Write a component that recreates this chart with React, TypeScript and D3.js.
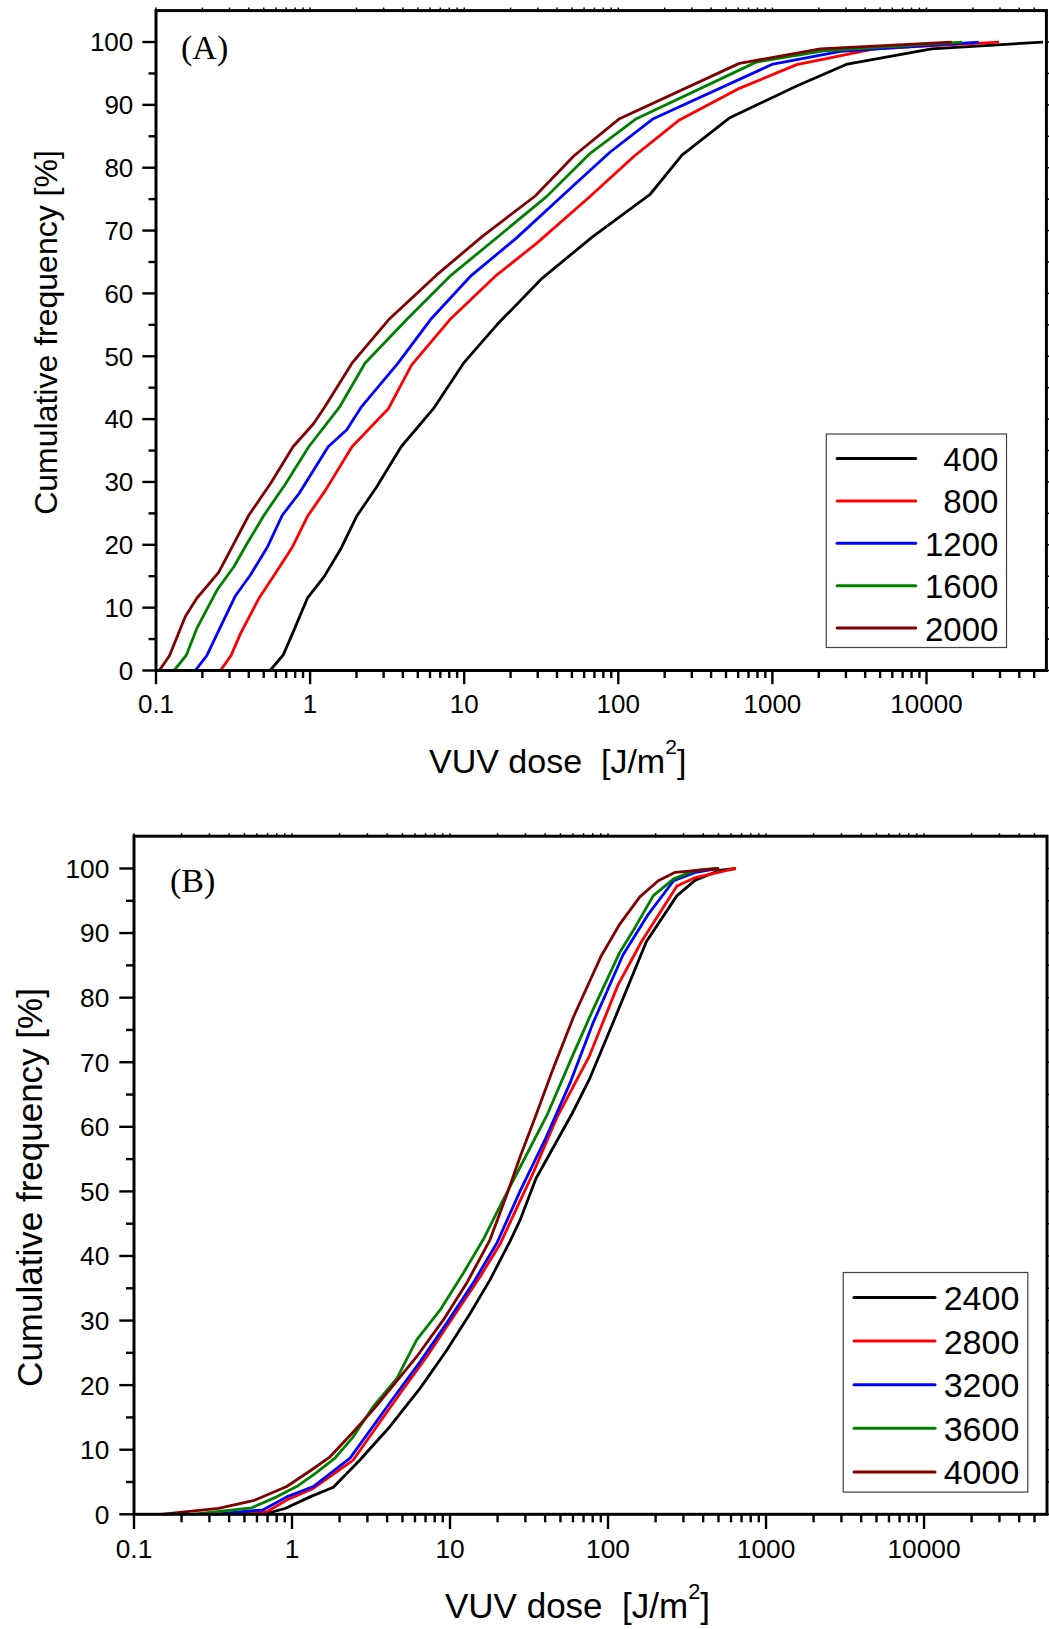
import React from "react";
import * as d3 from "d3";

// ---------- DATA ----------
const seriesNamesA = ["400", "800", "1200", "1600", "2000"];
const seriesNamesB = ["2400", "2800", "3200", "3600", "4000"];
const seriesColors = ["#000000", "#ff0000", "#0000ff", "#008000", "#800000"];

// Panel A: [VUV dose J/m2, cumulative frequency %]
const a400: [number, number][] = [
  [0.55, 0], [0.67, 2.5], [0.77, 5.9], [0.96, 11.5], [1.23, 14.9], [1.57, 19.2], [2.0, 24.5],
  [2.7, 29.2], [3.9, 35.6], [6.33, 41.7], [9.9, 48.9], [16.3, 55], [32, 62.4], [68, 69],
  [160, 75.7], [259, 82], [525, 87.9], [1438, 93], [3063, 96.5], [10800, 98.9], [57000, 100],
];
const a800: [number, number][] = [
  [0.262, 0], [0.307, 2.4], [0.354, 5.9], [0.466, 11.5], [0.615, 16], [0.77, 19.7], [0.96, 24.5],
  [1.26, 28.7], [1.87, 35.6], [3.23, 41.7], [4.55, 48.6], [8.05, 55.8], [15.85, 62.7], [29.6, 68],
  [64.7, 75.3], [127.7, 81.9], [246, 87.5], [594, 92.5], [1438, 96.4], [4584, 98.9], [29600, 100],
];
const a1200: [number, number][] = [
  [0.18, 0], [0.214, 2.4], [0.275, 8], [0.328, 11.9], [0.41, 15.2], [0.53, 19.7], [0.66, 24.7],
  [0.85, 28.2], [1.31, 35.6], [1.73, 38.3], [2.16, 42], [3.72, 48.9], [6.03, 55.8], [10.95, 62.7],
  [21.8, 68.8], [48.8, 76.7], [88.6, 82.5], [168.7, 87.8], [1009, 96.5], [2767, 98.5], [21840, 100],
];
const a1600: [number, number][] = [
  [0.131, 0], [0.157, 2.4], [0.184, 6.7], [0.249, 12.8], [0.32, 16.5], [0.39, 20.2], [0.502, 24.7],
  [0.697, 29.8], [0.98, 35.6], [1.56, 42], [2.27, 48.9], [4.22, 55.8], [8.05, 62.7], [17.1, 69.3],
  [34.2, 75.4], [65.7, 82.3], [131, 87.8], [785, 96.8], [2149, 98.6], [17000, 100],
];
const a2000: [number, number][] = [
  [0.105, 0], [0.122, 2.3], [0.155, 8.6], [0.184, 11.5], [0.255, 15.6], [0.32, 20.2], [0.4, 24.7],
  [0.555, 29.8], [0.775, 35.6], [1.055, 39.3], [1.25, 42], [1.87, 48.9], [3.23, 55.8], [6.6, 62.9],
  [13, 69], [28.9, 75.5], [51.6, 81.9], [101.8, 87.8], [610, 96.6], [2046, 98.9], [14590, 100],
];

// Panel B
const b2400: [number, number][] = [
  [0.658, 0], [0.903, 0.9], [1.3, 2.7], [1.826, 4.2], [2.69, 8.4], [4.17, 13.6], [6.46, 19.5],
  [9.53, 25.4], [13.4, 31.1], [17.9, 36.3], [24.0, 42.3], [27.7, 45.5], [35, 52], [59.4, 62.1],
  [76, 67.3], [110, 76.7], [175, 88.7], [273, 95.8], [357, 98.2], [505, 99.7], [645, 100],
];
const b2800: [number, number][] = [
  [0.425, 0], [0.692, 0.4], [0.926, 2.2], [1.364, 4], [2.44, 8.4], [3.44, 13.6], [4.83, 18.7],
  [7.12, 24.4], [10.5, 30.6], [15.5, 36.8], [20.7, 41.8], [27.7, 48.5], [33.8, 53], [47.6, 61.5],
  [76, 70.9], [115.3, 81.9], [163, 88.7], [273, 97.3], [357, 98.6], [645, 100],
];
const b3200: [number, number][] = [
  [0.318, 0], [0.658, 0.7], [0.926, 2.7], [1.364, 4.3], [2.33, 8.7], [3.12, 13], [4.38, 18],
  [6.46, 23.6], [9.53, 29.6], [14.0, 35.8], [19.8, 42], [27.7, 50], [40.1, 58.1], [58, 67],
  [79.8, 75.9], [124.3, 86.6], [179.7, 92.9], [260, 98.1], [357, 99.4], [505, 100],
];
const b3600: [number, number][] = [
  [0.232, 0], [0.556, 1], [0.8, 2.7], [1.07, 4.3], [1.4, 6.3], [1.87, 8.7], [2.44, 12], [3.27, 16.7],
  [4.6, 21], [6.15, 27], [8.64, 31.6], [12.1, 37.3], [16.2, 42.5], [21.5, 48.5], [27.7, 53.7],
  [41.1, 61.8], [59.4, 70.9], [79.8, 78], [118, 86.9], [147.6, 90.8], [193.6, 95.8], [260, 98.4],
  [357, 99.7], [481, 100],
];
const b4000: [number, number][] = [
  [0.148, 0], [0.342, 0.93], [0.569, 2.1], [0.926, 4.3], [1.333, 6.9], [1.74, 8.9], [2.39, 12.5],
  [3.27, 16.2], [4.49, 20.3], [6.15, 24.4], [9.07, 30.1], [12.76, 35.8], [17.9, 42.5], [22.5, 49],
  [27.7, 55.3], [34.6, 61.5], [44.3, 68.6], [60.9, 77.2], [90.3, 86.4], [118, 91.3], [159, 95.6],
  [208, 98.1], [266, 99.4], [505, 100],
];

const xMajorTicks = [0.1, 1, 10, 100, 1000, 10000];
const xTickLabels = ["0.1", "1", "10", "100", "1000", "10000"];
const yMajorTicks = [0, 10, 20, 30, 40, 50, 60, 70, 80, 90, 100];
const yMinorTicks = [5, 15, 25, 35, 45, 55, 65, 75, 85, 95];
const xDomain: [number, number] = [0.1, 60000];
const yDomain: [number, number] = [0, 105];

const SANS = "'Liberation Sans', Arial, Helvetica, sans-serif";
const SERIF = "'Liberation Serif', 'Times New Roman', serif";

const xMinorTicks: number[] = [];
for (let k = -1; k <= 4; k++) {
  for (let m = 2; m <= 9; m++) {
    const v = m * Math.pow(10, k);
    if (v < 60000) xMinorTicks.push(+v.toPrecision(3));
  }
}

type PanelProps = {
  left: number; right: number; top: number; bottom: number;
  series: [number, number][][]; names: string[];
  majorLen: number; minorLen: number;
  yLabelX: number; xLabelY: number; tickFont: number;
  panelLabel: string; panelLabelX: number; panelLabelY: number;
  xTitleX: number; xTitleY: number; xTitleFont: number;
  yTitleX: number; yTitleY: number; yTitleFont: number;
  legX: number; legY: number; legW: number; legH: number;
  legLineX1: number; legLineX2: number; legRow0: number; legRowStep: number;
  legTextX: number; legFont: number;
};

function Panel(p: PanelProps) {
  const x = d3.scaleLog().domain(xDomain).range([p.left, p.right]);
  const y = d3.scaleLinear().domain(yDomain).range([p.bottom, p.top]);
  const line = d3.line<[number, number]>().x((d) => x(d[0])).y((d) => y(d[1]));
  const tickW = 2.4;
  return (
    <g>
      {p.series.map((s, i) => (
        <path key={i} d={line(s) || ""} fill="none" stroke={seriesColors[i]} strokeWidth={2.8}
          strokeLinejoin="round" strokeLinecap="butt" />
      ))}
      <rect x={p.left} y={p.top} width={p.right - p.left} height={p.bottom - p.top}
        fill="none" stroke="#000" strokeWidth={3} />
      {xMajorTicks.map((t) => (
        <line key={"xm" + t} x1={x(t)} x2={x(t)} y1={p.bottom} y2={p.bottom + p.majorLen} stroke="#000" strokeWidth={tickW} />
      ))}
      {xMinorTicks.map((t) => (
        <line key={"xn" + t} x1={x(t)} x2={x(t)} y1={p.bottom} y2={p.bottom + p.minorLen} stroke="#000" strokeWidth={tickW} />
      ))}
      {xMajorTicks.concat(xMinorTicks).map((t) => (
        <line key={"xt" + t} x1={x(t)} x2={x(t)} y1={p.top} y2={p.top - 3} stroke="#000" strokeWidth={1.5} />
      ))}
      {yMajorTicks.map((t) => (
        <line key={"ym" + t} x1={p.left - p.majorLen} x2={p.left} y1={y(t)} y2={y(t)} stroke="#000" strokeWidth={tickW} />
      ))}
      {yMinorTicks.map((t) => (
        <line key={"yn" + t} x1={p.left - p.minorLen} x2={p.left} y1={y(t)} y2={y(t)} stroke="#000" strokeWidth={tickW} />
      ))}
      {yMajorTicks.concat(yMinorTicks).map((t) => (
        <line key={"yr" + t} x1={p.right} x2={p.right + 4} y1={y(t)} y2={y(t)} stroke="#000" strokeWidth={1.5} />
      ))}
      {yMajorTicks.map((t) => (
        <text key={"yl" + t} x={p.yLabelX} y={y(t) + p.tickFont * 0.358} textAnchor="end"
          fontFamily={SANS} fontSize={p.tickFont} fill="#000">{t}</text>
      ))}
      {xMajorTicks.map((t, i) => (
        <text key={"xl" + t} x={x(t)} y={p.xLabelY} textAnchor="middle"
          fontFamily={SANS} fontSize={p.tickFont} fill="#000">{xTickLabels[i]}</text>
      ))}
      <text x={p.xTitleX} y={p.xTitleY} fontFamily={SANS} fontSize={p.xTitleFont} fill="#000"
        style={{ whiteSpace: "pre" }}>
        {"VUV dose  [J/m"}
        <tspan dy={-19} fontSize={p.xTitleFont * 0.62}>2</tspan>
        <tspan dy={19}>]</tspan>
      </text>
      <text transform={`translate(${p.yTitleX},${p.yTitleY}) rotate(-90)`} textAnchor="middle"
        fontFamily={SANS} fontSize={p.yTitleFont} fill="#000">Cumulative frequency [%]</text>
      <text x={p.panelLabelX} y={p.panelLabelY} fontFamily={SERIF} fontSize={34} fill="#000">{p.panelLabel}</text>
      <rect x={p.legX} y={p.legY} width={p.legW} height={p.legH} fill="#fff" stroke="#444" strokeWidth={1.2} />
      {p.names.map((n, i) => {
        const ry = p.legRow0 + i * p.legRowStep;
        return (
          <g key={"lg" + n}>
            <line x1={p.legLineX1} x2={p.legLineX2} y1={ry} y2={ry} stroke={seriesColors[i]} strokeWidth={3} strokeLinecap="round" />
            <text x={p.legTextX} y={ry + 12.5} textAnchor="end" fontFamily={SANS} fontSize={p.legFont} fill="#000">{n}</text>
          </g>
        );
      })}
    </g>
  );
}

export default function App() {
  return (
    <svg width={1049} height={1629} style={{ position: "absolute", left: 0, top: 0, background: "#fff" }}>
      <rect x={0} y={0} width={1049} height={1629} fill="#fff" />
      <Panel
        left={156} right={1046.4} top={10.6} bottom={670.5}
        series={[a400, a800, a1200, a1600, a2000]} names={seriesNamesA}
        majorLen={13.7} minorLen={7.5}
        yLabelX={133.3} xLabelY={713.3} tickFont={26}
        panelLabel="(A)" panelLabelX={181} panelLabelY={59}
        xTitleX={429} xTitleY={772.7} xTitleFont={34}
        yTitleX={56.5} yTitleY={332.5} yTitleFont={32}
        legX={826.3} legY={434} legW={180.2} legH={213.5}
        legLineX1={837.1} legLineX2={915.7} legRow0={458.6} legRowStep={42.35}
        legTextX={998.4} legFont={33}
      />
      <Panel
        left={134} right={1047} top={836.2} bottom={1514.3}
        series={[b2400, b2800, b3200, b3600, b4000]} names={seriesNamesB}
        majorLen={14.7} minorLen={8}
        yLabelX={109.3} xLabelY={1558} tickFont={26.3}
        panelLabel="(B)" panelLabelX={170} panelLabelY={891.7}
        xTitleX={445} xTitleY={1618.3} xTitleFont={35}
        yTitleX={41.5} yTitleY={1187.5} yTitleFont={35}
        legX={843.2} legY={1272.5} legW={184.6} legH={219.6}
        legLineX1={854} legLineX2={935} legRow0={1297.5} legRowStep={43.6}
        legTextX={1019.3} legFont={34}
      />
    </svg>
  );
}
